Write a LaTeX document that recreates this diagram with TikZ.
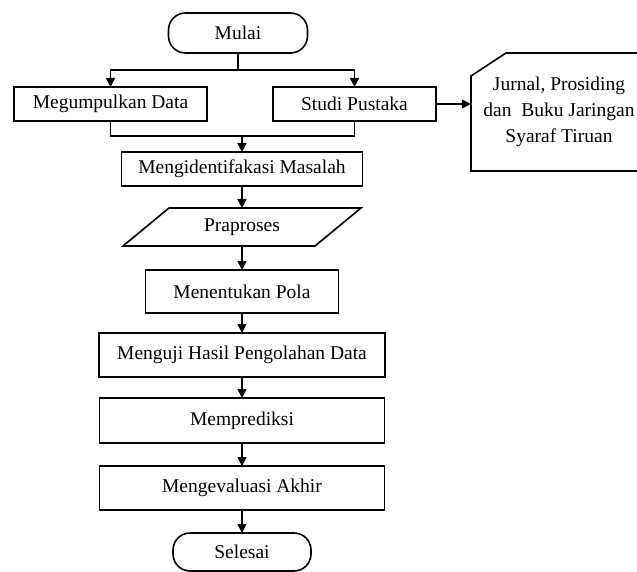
\documentclass[tikz,border=0pt]{standalone}
\usepackage{fontspec}
\setmainfont{Liberation Serif}
\usetikzlibrary{arrows.meta,positioning}

\begin{document}
\begin{tikzpicture}[
x=1pt, y=-1pt,
node distance=22pt,
font=\fontsize{19.5}{26}\selectfont,
box/.style={draw, line width=1.6pt, align=center, inner sep=0pt, outer sep=0pt, minimum height=34pt},
term/.style={draw, line width=1.6pt, rounded corners=17pt, inner sep=0pt, outer sep=0pt, minimum width=139pt, minimum height=40pt},
io/.style={inner sep=0pt, outer sep=0pt, minimum width=192pt, minimum height=38pt},
arrow/.style={-{Triangle[length=9pt,width=9pt]}, line width=1.6pt},
line/.style={line width=1.6pt}
]
\useasboundingbox (0,0) rectangle (637,572);

\node[term] (mulai) at (238,33) {Mulai};
\node[box, minimum width=193pt, below=34pt of mulai, xshift=-127.5pt] (kumpul) {Megumpulkan Data};
\node[box, minimum width=163pt, below=34pt of mulai, xshift=116.5pt] (studi) {Studi Pustaka};
\node[box, minimum width=241pt, below=99pt of mulai, xshift=4pt] (ident) {Mengidentifakasi Masalah};
\node[io, below=of ident] (prapro) {Praproses};
\draw[line] ([xshift=-23pt]prapro.south west) -- ([xshift=23pt]prapro.north west) -- ([xshift=23pt]prapro.north east) -- ([xshift=-23pt]prapro.south east) -- cycle;
\node[box, minimum width=193pt, minimum height=43pt, below=24pt of prapro] (pola) {Menentukan Pola};
\node[box, minimum width=286pt, minimum height=44pt, below=20pt of pola] (uji) {Menguji Hasil Pengolahan Data};
\node[box, minimum width=285pt, minimum height=45pt, below=21pt of uji] (prediksi) {Memprediksi};
\node[box, minimum width=285pt, minimum height=44pt, below=23pt of prediksi] (evaluasi) {Mengevaluasi Akhir};
\node[term, minimum width=138pt, minimum height=38pt, below=23pt of evaluasi] (selesai) {Selesai};

% sumber pustaka
\node[align=center, minimum width=166pt, minimum height=118pt, inner sep=0pt, outer sep=0pt, right=35pt of studi, yshift=-8pt] (pustaka) {\hspace*{10pt}Jurnal, Prosiding\\\hspace*{10pt}dan\ \ Buku Jaringan\\\hspace*{10pt}Syaraf Tiruan};
\draw[line] (pustaka.north east) -- ([xshift=35pt]pustaka.north west) -- ([yshift=-23pt]pustaka.north west) -- (pustaka.south west) -- (pustaka.south east);

% percabangan
\coordinate[below=17pt of mulai] (fork);
\draw[line] (mulai) -- (fork);
\draw[arrow] (fork) -| (kumpul);
\draw[arrow] (fork) -| (studi);
\coordinate[above=16pt of ident] (join);
\draw[line] (kumpul) |- (join) -| (studi);
\draw[arrow] (join) -- (ident);
\draw[arrow] (studi.east) -- (studi.east -| pustaka.west);

\draw[arrow] (ident) -- (prapro);
\draw[arrow] (prapro) -- (pola);
\draw[arrow] (pola) -- (uji);
\draw[arrow] (uji) -- (prediksi);
\draw[arrow] (prediksi) -- (evaluasi);
\draw[arrow] (evaluasi) -- (selesai);
\end{tikzpicture}
\end{document}
